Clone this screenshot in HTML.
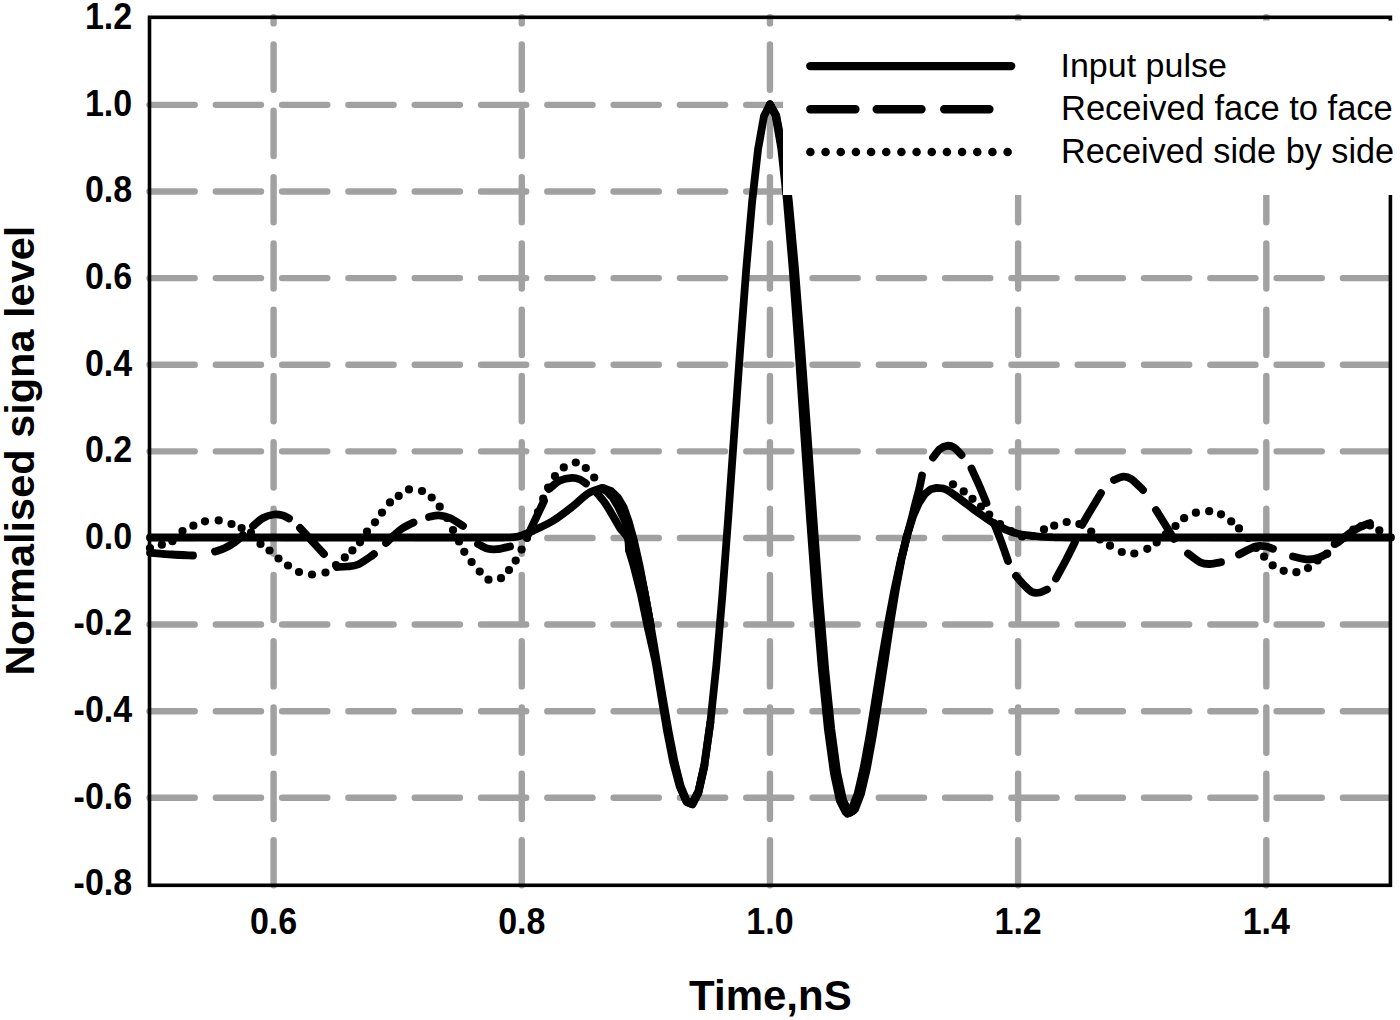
<!DOCTYPE html>
<html><head><meta charset="utf-8"><title>Chart</title>
<style>html,body{margin:0;padding:0;background:#fff;width:1400px;height:1020px;overflow:hidden;}svg{display:block;}</style>
</head><body>
<svg width="1400" height="1020" viewBox="0 0 1400 1020">
<rect width="1400" height="1020" fill="#fff"/>
<path d="M149.50,104.85 H1390.40 M149.50,191.47 H1390.40 M149.50,278.09 H1390.40 M149.50,364.71 H1390.40 M149.50,451.33 H1390.40 M149.50,537.95 H1390.40 M149.50,624.57 H1390.40 M149.50,711.19 H1390.40 M149.50,797.81 H1390.40 M273.59,885.30 V17.30 M521.77,885.30 V17.30 M769.95,885.30 V17.30 M1018.13,885.30 V17.30 M1266.31,885.30 V17.30" stroke="#a1a1a1" stroke-width="6.4" fill="none" stroke-linecap="round" stroke-dasharray="45.2 21.1"/>
<rect x="149.50" y="17.30" width="1240.90" height="868.00" fill="none" stroke="#000" stroke-width="3.6"/>
<g fill="none" stroke="#000" stroke-width="7.8" stroke-linecap="round" stroke-linejoin="round">
<path d="M150.00,537.50 C175.00,537.50 245.00,537.50 300.00,537.50 C355.00,537.50 445.83,537.52 480.00,537.50 C514.17,537.48 498.67,537.57 505.00,537.40 C511.33,537.23 513.27,537.63 518.00,536.50 C522.73,535.37 527.57,533.22 533.40,530.60 C539.23,527.98 546.47,524.82 553.00,520.80 C559.53,516.78 566.77,511.05 572.60,506.50 C578.43,501.95 583.19,496.54 588.00,493.50 C592.81,490.46 598.91,489.11 601.44,488.29 C603.96,487.46 602.88,488.49 603.17,488.53 M601.44,488.29 L603.17,488.53 L609.13,491.22 L615.09,497.25 L621.04,507.27 L627.00,521.79 L632.95,541.13 L638.91,565.34 L644.87,594.07 L650.82,626.58 L656.78,661.60 L662.74,697.40 L668.69,731.81 L674.65,762.28 L680.61,786.08 L686.56,800.45 L690.59,803.54 L692.52,802.88 L698.47,791.37 L704.43,764.63 L710.39,722.40 L716.34,665.52 L722.30,596.04 L728.26,517.21 L734.21,433.27 L740.17,349.22 L746.12,270.42 L752.08,202.22 L758.04,149.43 L763.99,115.95 L769.95,104.40 L775.91,115.49 L781.86,148.14 L787.82,200.16 L793.78,267.98 L799.73,346.98 L805.69,431.92 L811.64,517.36 L817.60,598.14 L823.56,669.76 L829.51,728.69 L835.47,772.60 L841.43,800.41 L847.38,812.26 L848.50,812.79 L853.34,809.37 L859.29,793.82 L865.25,768.26 L871.21,735.64 L877.16,698.94 L883.12,660.94 L889.08,624.03 L895.03,590.08 L900.99,560.45 L906.95,535.92 L912.90,516.80 L918.86,502.97 L924.81,494.00 L930.77,489.24 L936.73,487.93 L937.97,488.02 M936.73,487.93 C936.93,487.95 936.42,487.76 937.97,488.02 C939.51,488.28 942.66,487.92 946.00,489.50 C949.34,491.08 952.83,493.78 958.00,497.50 C963.17,501.22 970.72,507.30 977.00,511.80 C983.28,516.30 989.48,521.00 995.70,524.50 C1001.92,528.00 1008.08,530.88 1014.30,532.80 C1020.52,534.72 1026.88,535.27 1033.00,536.00 C1039.12,536.73 1044.83,536.95 1051.00,537.20 C1057.17,537.45 1045.17,537.45 1070.00,537.50 C1094.83,537.55 1146.50,537.50 1200.00,537.50 C1253.50,537.50 1359.17,537.50 1391.00,537.50"/>
<path d="M150.00,552.70 C153.67,553.00 164.83,554.03 172.00,554.50 C179.17,554.97 189.50,555.33 193.00,555.50"/>
<path d="M215.00,551.50 C216.67,550.92 221.67,549.58 225.00,548.00 C228.33,546.42 232.00,544.17 235.00,542.00 C238.00,539.83 241.67,536.17 243.00,535.00"/>
<path d="M253.00,526.00 C254.67,524.67 259.50,519.92 263.00,518.00 C266.50,516.08 270.67,514.92 274.00,514.50 C277.33,514.08 280.50,514.83 283.00,515.50 C285.50,516.17 288.00,518.00 289.00,518.50"/>
<path d="M300.00,528.00 C302.00,530.17 308.00,536.67 312.00,541.00 C316.00,545.33 322.00,551.83 324.00,554.00"/>
<path d="M337.00,567.00 C338.67,566.92 343.50,566.92 347.00,566.50 C350.50,566.08 354.17,566.08 358.00,564.50 C361.83,562.92 367.33,558.75 370.00,557.00 C372.67,555.25 373.33,554.50 374.00,554.00"/>
<path d="M386.00,543.00 C388.33,540.83 395.42,533.42 400.00,530.00 C404.58,526.58 411.25,523.75 413.50,522.50"/>
<path d="M429.00,517.00 C430.62,516.72 435.20,515.13 438.70,515.30 C442.20,515.47 445.95,516.22 450.00,518.00 C454.05,519.78 460.83,524.67 463.00,526.00"/>
<path d="M478.00,544.00 C479.50,544.75 483.83,547.63 487.00,548.50 C490.17,549.37 493.17,549.53 497.00,549.20 C500.83,548.87 507.83,546.95 510.00,546.50"/>
<path d="M527.00,537.00 C528.50,533.83 533.17,524.00 536.00,518.00 C538.83,512.00 542.67,503.83 544.00,501.00"/>
<path d="M549.00,489.00 C550.83,487.58 556.17,482.37 560.00,480.50 C563.83,478.63 568.67,477.97 572.00,477.80 C575.33,477.63 577.67,478.55 580.00,479.50 C582.33,480.45 585.00,482.83 586.00,483.50"/>
<path d="M971.50,468.60 C972.75,471.33 976.50,479.27 979.00,485.00 C981.50,490.73 985.25,500.00 986.50,503.00"/>
<path d="M994.00,523.00 C995.17,526.00 998.67,534.67 1001.00,541.00 C1003.33,547.33 1006.83,557.67 1008.00,561.00"/>
<path d="M1016.00,576.00 C1017.33,577.50 1021.33,582.33 1024.00,585.00 C1026.67,587.67 1029.33,590.75 1032.00,592.00 C1034.67,593.25 1037.50,592.92 1040.00,592.50 C1042.50,592.08 1045.83,590.00 1047.00,589.50"/>
<path d="M1056.00,578.50 C1057.67,575.42 1062.83,566.08 1066.00,560.00 C1069.17,553.92 1073.50,545.00 1075.00,542.00"/>
<path d="M1082.00,525.00 C1083.67,522.17 1088.83,513.33 1092.00,508.00 C1095.17,502.67 1099.50,495.50 1101.00,493.00"/>
<path d="M1114.00,480.00 C1115.55,479.45 1120.43,476.87 1123.30,476.70 C1126.17,476.53 1127.92,476.78 1131.20,479.00 C1134.48,481.22 1141.03,488.17 1143.00,490.00"/>
<path d="M1156.00,510.00 C1157.67,512.67 1163.00,521.17 1166.00,526.00 C1169.00,530.83 1172.67,536.83 1174.00,539.00"/>
<path d="M1188.00,553.50 C1190.10,555.00 1196.93,560.75 1200.60,562.50 C1204.27,564.25 1206.60,564.05 1210.00,564.00 C1213.40,563.95 1219.17,562.50 1221.00,562.20"/>
<path d="M1239.00,554.50 C1241.75,553.17 1251.00,547.83 1255.50,546.50 C1260.00,545.17 1263.08,546.12 1266.00,546.50 C1268.92,546.88 1271.83,548.42 1273.00,548.80"/>
<path d="M1293.00,556.50 C1295.50,557.00 1303.67,559.33 1308.00,559.50 C1312.33,559.67 1315.83,558.47 1319.00,557.50 C1322.17,556.53 1325.67,554.33 1327.00,553.70"/>
<path d="M1338.00,542.50 C1340.00,540.92 1346.33,535.58 1350.00,533.00 C1353.67,530.42 1356.67,528.67 1360.00,527.00 C1363.33,525.33 1368.33,523.67 1370.00,523.00"/>
<path d="M596.00,492.00 C597.50,493.83 602.17,499.00 605.00,503.00 C607.83,507.00 610.50,511.83 613.00,516.00 C615.50,520.17 617.58,524.42 620.00,528.00 C622.42,531.58 626.00,533.81 627.50,537.50 C629.00,541.19 628.74,548.03 628.99,550.14"/>
<path d="M906.50,537.50 C907.25,534.75 909.58,526.42 911.00,521.00 C912.42,515.58 913.62,510.42 915.00,505.00 C916.38,499.58 918.13,493.42 919.30,488.50 C920.47,483.58 921.55,477.67 922.00,475.50"/>
<path d="M933.00,457.50 C934.17,456.08 937.67,450.95 940.00,449.00 C942.33,447.05 944.67,446.05 947.00,445.80 C949.33,445.55 951.58,445.97 954.00,447.50 C956.42,449.03 960.25,453.75 961.50,455.00"/>
<path d="M628.99,550.14 L633.55,565.34 L640.81,594.07 L647.54,626.58 L655.52,661.60 L661.42,697.40 L667.19,731.81 L673.19,762.28 L679.54,786.08 L685.95,800.45 L690.59,803.54 L692.52,802.88 L698.47,791.37 L704.43,764.63 L710.39,722.40"/>
<path d="M769.95,104.40 L776.23,115.49 L782.50,148.14 L788.78,200.16 L794.97,267.98 L801.15,346.98 L807.33,431.92 L813.34,517.36 L819.30,598.14 L825.26,669.76 L831.21,728.69 L837.17,772.60 L843.13,800.41 L849.08,812.26 L850.20,812.79 L855.04,809.37 L860.99,793.82 L866.95,768.26 L872.91,735.64 L878.86,698.94 L884.71,660.94 L890.22,624.03 L895.72,590.08 L901.26,560.45 L907.01,535.92 L907.01,535.92"/>
<path d="M769.95,104.40 L775.59,115.49 L781.22,148.14 L786.86,200.16 L792.58,267.98 L798.31,346.98 L804.04,431.92 L809.94,517.36 L815.90,598.14 L821.86,669.76 L827.81,728.69 L833.77,772.60 L839.73,800.41 L845.68,812.26 L846.80,812.79 L851.64,809.37 L857.59,793.82 L863.55,768.26 L869.51,735.64 L875.46,698.94 L881.53,660.94 L887.94,624.03 L894.34,590.08 L900.71,560.45 L906.88,535.92 L906.88,535.92"/>
<path d="M604.67,488.53 L611.44,491.22 L617.69,497.25 L623.64,507.27 L628.78,521.79 L634.06,541.13 L639.48,565.34 L644.95,594.07 L650.82,626.58"/>
<path d="M601.67,488.53 L606.82,491.22 L612.49,497.25 L618.44,507.27 L625.22,521.79 L631.85,541.13 L638.34,565.34 L644.79,594.07 L650.82,626.58"/>
<path d="M674.65,763.88 L680.61,787.68 L686.56,802.05 L692.52,804.48 L698.47,792.97 L704.43,766.23"/>
<path d="M835.47,774.00 L841.43,801.81 L847.38,813.66 L853.34,810.77 L859.29,795.22 L865.25,769.66"/>
</g>
<g fill="#000">
<circle cx="150.0" cy="548.0" r="4.1"/>
<circle cx="161.8" cy="544.7" r="4.1"/>
<circle cx="172.4" cy="541.2" r="4.1"/>
<circle cx="182.5" cy="531.0" r="4.1"/>
<circle cx="193.4" cy="525.7" r="4.1"/>
<circle cx="205.0" cy="521.3" r="4.1"/>
<circle cx="218.7" cy="520.4" r="4.1"/>
<circle cx="231.5" cy="524.0" r="4.1"/>
<circle cx="241.6" cy="528.0" r="4.1"/>
<circle cx="251.0" cy="532.5" r="4.1"/>
<circle cx="260.5" cy="544.0" r="4.1"/>
<circle cx="269.5" cy="550.5" r="4.1"/>
<circle cx="278.5" cy="558.5" r="4.1"/>
<circle cx="288.0" cy="565.5" r="4.1"/>
<circle cx="299.0" cy="572.0" r="4.1"/>
<circle cx="312.0" cy="574.5" r="4.1"/>
<circle cx="325.5" cy="572.5" r="4.1"/>
<circle cx="336.0" cy="565.0" r="4.1"/>
<circle cx="344.8" cy="557.4" r="4.1"/>
<circle cx="352.4" cy="550.4" r="4.1"/>
<circle cx="360.0" cy="542.3" r="4.1"/>
<circle cx="367.0" cy="531.5" r="4.1"/>
<circle cx="375.0" cy="522.3" r="4.1"/>
<circle cx="382.0" cy="512.6" r="4.1"/>
<circle cx="390.0" cy="502.4" r="4.1"/>
<circle cx="398.7" cy="495.9" r="4.1"/>
<circle cx="409.0" cy="489.4" r="4.1"/>
<circle cx="422.0" cy="491.0" r="4.1"/>
<circle cx="431.7" cy="497.5" r="4.1"/>
<circle cx="439.7" cy="506.7" r="4.1"/>
<circle cx="447.0" cy="518.0" r="4.1"/>
<circle cx="453.0" cy="530.0" r="4.1"/>
<circle cx="459.0" cy="541.5" r="4.1"/>
<circle cx="464.3" cy="551.8" r="4.1"/>
<circle cx="471.6" cy="562.0" r="4.1"/>
<circle cx="479.7" cy="571.6" r="4.1"/>
<circle cx="488.5" cy="579.7" r="4.1"/>
<circle cx="501.0" cy="578.2" r="4.1"/>
<circle cx="509.0" cy="570.1" r="4.1"/>
<circle cx="515.7" cy="560.6" r="4.1"/>
<circle cx="521.6" cy="549.6" r="4.1"/>
<circle cx="527.0" cy="538.0" r="4.1"/>
<circle cx="533.0" cy="526.0" r="4.1"/>
<circle cx="538.0" cy="512.0" r="4.1"/>
<circle cx="543.2" cy="498.7" r="4.1"/>
<circle cx="548.1" cy="487.5" r="4.1"/>
<circle cx="555.0" cy="476.2" r="4.1"/>
<circle cx="563.8" cy="467.4" r="4.1"/>
<circle cx="575.8" cy="462.5" r="4.1"/>
<circle cx="585.8" cy="468.0" r="4.1"/>
<circle cx="594.2" cy="477.5" r="4.1"/>
<circle cx="953.0" cy="484.3" r="4.1"/>
<circle cx="963.7" cy="491.4" r="4.1"/>
<circle cx="972.5" cy="498.8" r="4.1"/>
<circle cx="981.0" cy="506.5" r="4.1"/>
<circle cx="989.2" cy="514.6" r="4.1"/>
<circle cx="1000.0" cy="524.0" r="4.1"/>
<circle cx="1011.0" cy="531.0" r="4.1"/>
<circle cx="1022.0" cy="536.5" r="4.1"/>
<circle cx="1033.0" cy="536.0" r="4.1"/>
<circle cx="1044.0" cy="529.4" r="4.1"/>
<circle cx="1054.2" cy="525.7" r="4.1"/>
<circle cx="1066.7" cy="522.0" r="4.1"/>
<circle cx="1079.4" cy="524.0" r="4.1"/>
<circle cx="1091.2" cy="531.6" r="4.1"/>
<circle cx="1099.8" cy="539.4" r="4.1"/>
<circle cx="1110.0" cy="545.7" r="4.1"/>
<circle cx="1121.8" cy="552.0" r="4.1"/>
<circle cx="1134.3" cy="553.5" r="4.1"/>
<circle cx="1147.3" cy="548.8" r="4.1"/>
<circle cx="1156.7" cy="542.5" r="4.1"/>
<circle cx="1166.0" cy="534.0" r="4.1"/>
<circle cx="1175.5" cy="526.0" r="4.1"/>
<circle cx="1184.1" cy="518.2" r="4.1"/>
<circle cx="1195.9" cy="512.7" r="4.1"/>
<circle cx="1209.2" cy="511.2" r="4.1"/>
<circle cx="1221.0" cy="514.3" r="4.1"/>
<circle cx="1231.2" cy="521.4" r="4.1"/>
<circle cx="1239.0" cy="528.4" r="4.1"/>
<circle cx="1248.0" cy="538.0" r="4.1"/>
<circle cx="1256.0" cy="548.0" r="4.1"/>
<circle cx="1264.1" cy="556.7" r="4.1"/>
<circle cx="1272.7" cy="565.3" r="4.1"/>
<circle cx="1283.7" cy="570.8" r="4.1"/>
<circle cx="1296.4" cy="572.2" r="4.1"/>
<circle cx="1308.0" cy="568.1" r="4.1"/>
<circle cx="1317.6" cy="560.5" r="4.1"/>
<circle cx="1327.2" cy="553.7" r="4.1"/>
<circle cx="1334.8" cy="544.0" r="4.1"/>
<circle cx="1343.7" cy="538.0" r="4.1"/>
<circle cx="1353.3" cy="529.7" r="4.1"/>
<circle cx="1361.5" cy="526.2" r="4.1"/>
<circle cx="1370.0" cy="525.5" r="4.1"/>
<circle cx="1379.3" cy="530.4" r="4.1"/>
</g>
<rect x="783" y="20.6" width="617" height="174.4" fill="#fff"/>
<g stroke="#000" stroke-width="8.4" stroke-linecap="round" fill="none">
<path d="M810.3,66.1 H1011.2"/>
<path d="M810.3,109.2 H855.4 M876.7,109.2 H921.5 M944.2,109.2 H989.4"/>
</g>
<g fill="#000">
<circle cx="810.40" cy="152" r="4.3"/>
<circle cx="825.57" cy="152" r="4.3"/>
<circle cx="840.74" cy="152" r="4.3"/>
<circle cx="855.91" cy="152" r="4.3"/>
<circle cx="871.08" cy="152" r="4.3"/>
<circle cx="886.25" cy="152" r="4.3"/>
<circle cx="901.42" cy="152" r="4.3"/>
<circle cx="916.59" cy="152" r="4.3"/>
<circle cx="931.76" cy="152" r="4.3"/>
<circle cx="946.93" cy="152" r="4.3"/>
<circle cx="962.10" cy="152" r="4.3"/>
<circle cx="977.27" cy="152" r="4.3"/>
<circle cx="992.44" cy="152" r="4.3"/>
<circle cx="1007.61" cy="152" r="4.3"/>
</g>
<g font-family="Liberation Sans, sans-serif" font-size="34" fill="#000">
<text x="1060.5" y="76.9">Input pulse</text>
<text x="1061" y="119.5" font-size="34.5">Received face to face</text>
<text x="1061" y="162.9" font-size="34.25">Received side by side</text>
</g>
<g font-family="Liberation Sans, sans-serif" font-size="34" font-weight="bold" fill="#000" text-anchor="end">
<text transform="translate(132.2,29.20) scale(1,1.08)">1.2</text>
<text transform="translate(132.2,115.81) scale(1,1.08)">1.0</text>
<text transform="translate(132.2,202.42) scale(1,1.08)">0.8</text>
<text transform="translate(132.2,289.03) scale(1,1.08)">0.6</text>
<text transform="translate(132.2,375.64) scale(1,1.08)">0.4</text>
<text transform="translate(132.2,462.25) scale(1,1.08)">0.2</text>
<text transform="translate(132.2,548.86) scale(1,1.08)">0.0</text>
<text transform="translate(132.2,635.47) scale(1,1.08)">-0.2</text>
<text transform="translate(132.2,722.08) scale(1,1.08)">-0.4</text>
<text transform="translate(132.2,808.69) scale(1,1.08)">-0.6</text>
<text transform="translate(132.2,895.30) scale(1,1.08)">-0.8</text>
</g>
<g font-family="Liberation Sans, sans-serif" font-size="34" font-weight="bold" fill="#000" text-anchor="middle">
<text transform="translate(273.59,933.8) scale(1,1.08)">0.6</text>
<text transform="translate(521.77,933.8) scale(1,1.08)">0.8</text>
<text transform="translate(769.95,933.8) scale(1,1.08)">1.0</text>
<text transform="translate(1018.13,933.8) scale(1,1.08)">1.2</text>
<text transform="translate(1266.31,933.8) scale(1,1.08)">1.4</text>
</g>
<text font-family="Liberation Sans, sans-serif" font-size="42" font-weight="bold" text-anchor="middle" x="770.4" y="1009.7">Time,nS</text>
<text font-family="Liberation Sans, sans-serif" font-size="41.5" font-weight="bold" text-anchor="middle" transform="translate(33.8,450.5) rotate(-90)">Normalised signa level</text>
</svg>
</body></html>
